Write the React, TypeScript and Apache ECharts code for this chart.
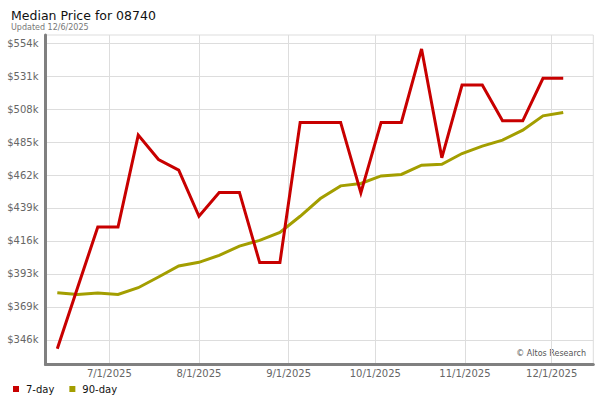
import React, { useEffect, useRef } from "react";
import * as echarts from "echarts";

const dates: string[] = [
  "2025-06-13", "2025-06-20", "2025-06-27", "2025-07-04", "2025-07-11", "2025-07-18",
  "2025-07-25", "2025-08-01", "2025-08-08", "2025-08-15", "2025-08-22", "2025-08-29",
  "2025-09-05", "2025-09-12", "2025-09-19", "2025-09-26", "2025-10-03", "2025-10-10",
  "2025-10-17", "2025-10-24", "2025-10-31", "2025-11-07", "2025-11-14", "2025-11-21",
  "2025-11-28", "2025-12-05",
];

const sevenDay: number[] = [
  340000, 382700, 425400, 425400, 489800, 472700, 465200, 432900, 449600, 449600,
  400400, 400400, 498700, 498700, 498700, 449300, 498700, 498700, 550200, 473900,
  524900, 524900, 499800, 499800, 529600, 529600,
];

const ninetyDay: number[] = [
  379300, 378100, 379000, 378100, 382800, 390300, 398000, 400600, 405500, 412000,
  416000, 421500, 432900, 445300, 454200, 455900, 461200, 462200, 468700, 469400,
  476900, 482100, 486300, 493300, 503300, 505700,
];

const yTicks: number[] = [
  346300, 369400, 392500, 415600, 438700, 461800, 484900, 508000, 531100, 554200,
];

const xTicks: string[] = [
  "2025-07-01", "2025-08-01", "2025-09-01", "2025-10-01", "2025-11-01", "2025-12-01",
];

const FONT = "DejaVu Sans";
const ts = (s: string) => {
  const [y, m, d] = s.split("-").map(Number);
  return Date.UTC(y, m - 1, d);
};
const DAY = 86400000;

export default function App() {
  const ref = useRef<HTMLDivElement>(null);
  useEffect(() => {
    if (!ref.current) return;
    const chart = echarts.init(ref.current, null, { renderer: "svg" });
    const xMin = ts("2025-06-09") - 2 * 3600000;
    const xMax = ts("2025-12-15") + 0.4 * DAY;
    chart.setOption({
      animation: false,
      backgroundColor: "#ffffff",
      title: {
        text: "Median Price for 08740",
        subtext: "Updated 12/6/2025",
        left: 6,
        top: 4,
        itemGap: 1,
        textStyle: { fontFamily: FONT, fontSize: 12.5, fontWeight: "normal", color: "#111" },
        subtextStyle: { fontFamily: FONT, fontSize: 8, color: "#777" },
      },
      legend: {
        left: 8,
        top: 379,
        icon: "rect",
        itemWidth: 6,
        itemHeight: 6,
        itemGap: 15,
        textStyle: { fontFamily: FONT, fontSize: 10, color: "#111", padding: [0, 0, 0, 2] },
        data: ["7-day", "90-day"],
      },
      grid: {
        left: 45.5,
        right: 6.7,
        top: 35,
        bottom: 35.5,
        show: true,
        borderColor: "#dddddd",
        borderWidth: 1,
        containLabel: false,
      },
      xAxis: {
        type: "value",
        min: xMin,
        max: xMax,
        axisLine: { show: true, lineStyle: { color: "#808080", width: 3 } },
        axisTick: { show: false, customValues: xTicks.map(ts) },
        splitLine: { show: true, lineStyle: { color: "#dddddd", width: 1 } },
        axisLabel: {
          customValues: xTicks.map(ts),
          fontFamily: FONT,
          fontSize: 10,
          color: "#666",
          margin: 4,
          formatter: (v: number) => {
            const d = new Date(v);
            return `${d.getUTCMonth() + 1}/${d.getUTCDate()}/${d.getUTCFullYear()}`;
          },
        },
      },
      yAxis: {
        type: "value",
        min: 328950,
        max: 560000,
        axisLine: { show: true, lineStyle: { color: "#808080", width: 3 } },
        axisTick: { show: false, customValues: yTicks },
        splitLine: { show: true, lineStyle: { color: "#dddddd", width: 1 } },
        axisLabel: {
          customValues: yTicks,
          fontFamily: FONT,
          fontSize: 10,
          color: "#666",
          margin: 7,
          formatter: (v: number) => `$${Math.round(v / 1000)}k`,
        },
      },
      graphic: [
        {
          type: "text",
          right: 14,
          top: 349,
          style: { text: "© Altos Research", font: `8px "${FONT}"`, fill: "#555" },
        },
      ],
      series: [
        {
          name: "7-day",
          type: "line",
          showSymbol: false,
          symbol: "none",
          data: dates.map((d, i) => [ts(d), sevenDay[i]]),
          lineStyle: { color: "#c80000", width: 3, join: "miter" },
          itemStyle: { color: "#c80000" },
          z: 3,
        },
        {
          name: "90-day",
          type: "line",
          showSymbol: false,
          symbol: "none",
          data: dates.map((d, i) => [ts(d), ninetyDay[i]]),
          lineStyle: { color: "#a39e00", width: 3, join: "miter" },
          itemStyle: { color: "#a39e00" },
          z: 2,
        },
      ],
    });
    return () => chart.dispose();
  }, []);
  return (
    <div
      ref={ref}
      style={{ position: "fixed", left: 0, top: 0, width: 600, height: 400 }}
    />
  );
}
